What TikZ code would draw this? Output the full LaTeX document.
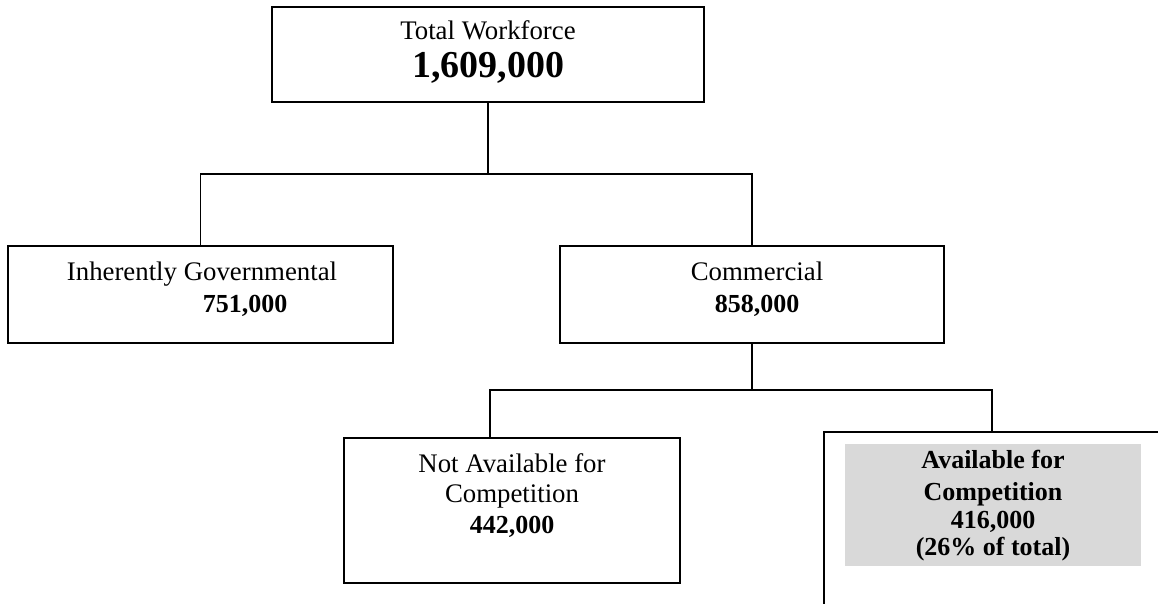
\documentclass[tikz,border=0pt]{standalone}
\usepackage{fontspec}
\setmainfont{Liberation Serif}
\definecolor{panelgray}{HTML}{D9D9D9}
\tikzset{
  box/.style={draw, line width=1.6pt, inner sep=0pt},
  wire/.style={line width=1.1pt},
  txt/.style={anchor=base, inner sep=0pt, font=\fontsize{26.8}{30}\selectfont},
  num/.style={anchor=base, inner sep=0pt, font=\fontsize{26}{30}\selectfont\bfseries},
}

\begin{document}
\begin{tikzpicture}[x=1pt, y=-1pt]
		%%%%% FRAME %%%%%
		\path[use as bounding box] (0,0) rectangle (1158,604);
		\clip (0,0) rectangle (1158,604);
		
		%%%%% BOXES %%%%%
		\node[box, minimum width=432pt, minimum height=95pt] (total) at (488,54.5) {};
		\node[box, minimum width=385pt, minimum height=97pt] (gov) at (200.5,294.5) {};
		\node[box, minimum width=384pt, minimum height=97pt] (comm) at (752,294.5) {};
		\node[box, minimum width=336pt, minimum height=145pt] (notavail) at (512,510.5) {};
		\node[box, minimum width=336pt, minimum height=188pt] (avail) at (992,526) {};
		\node[fill=panelgray, inner sep=0pt, minimum width=296pt, minimum height=122pt] (shade) at (993,505) {};
		
		%%%%% CONNECTORS %%%%%
		\coordinate (fork) at (488,174);
		\coordinate (tap) at (490,390);
		\draw[wire] (total.south) -- (fork);
		\draw[wire] (gov.north) |- (fork) -| (comm.north);
		\draw[wire] (comm.south) -- (comm.south |- tap);
		\draw[wire] (tap |- notavail.north) -- (tap) -| (avail.north);
		
		%%%%% TEXT %%%%%
		\node[txt] (totalname) at (488,40) {Total Workforce};
		\node[num, font=\fontsize{38}{40}\selectfont\bfseries] (totalnum) at (488,78) {1,609,000};
		
		\node[txt] (govname) at (202,280) {Inherently Governmental};
		\node[num] (govnum) at (245,312) {751,000};
		
		\node[txt] (commname) at (757,280) {Commercial};
		\node[num] (commnum) at (757,312) {858,000};
		
		\node[txt] (notavailname) at (512,472) {Not Available for};
		\node[txt] (notavailname2) at (512,502) {Competition};
		\node[num] (notavailnum) at (512,533) {442,000};
		
		\node[num] (availname) at (993,468) {Available for};
		\node[num] (availname2) at (993,500) {Competition};
		\node[num] (availnum) at (993,528) {416,000};
		\node[num] (availshare) at (993,555) {(26\% of total)};
\end{tikzpicture}
\end{document}
